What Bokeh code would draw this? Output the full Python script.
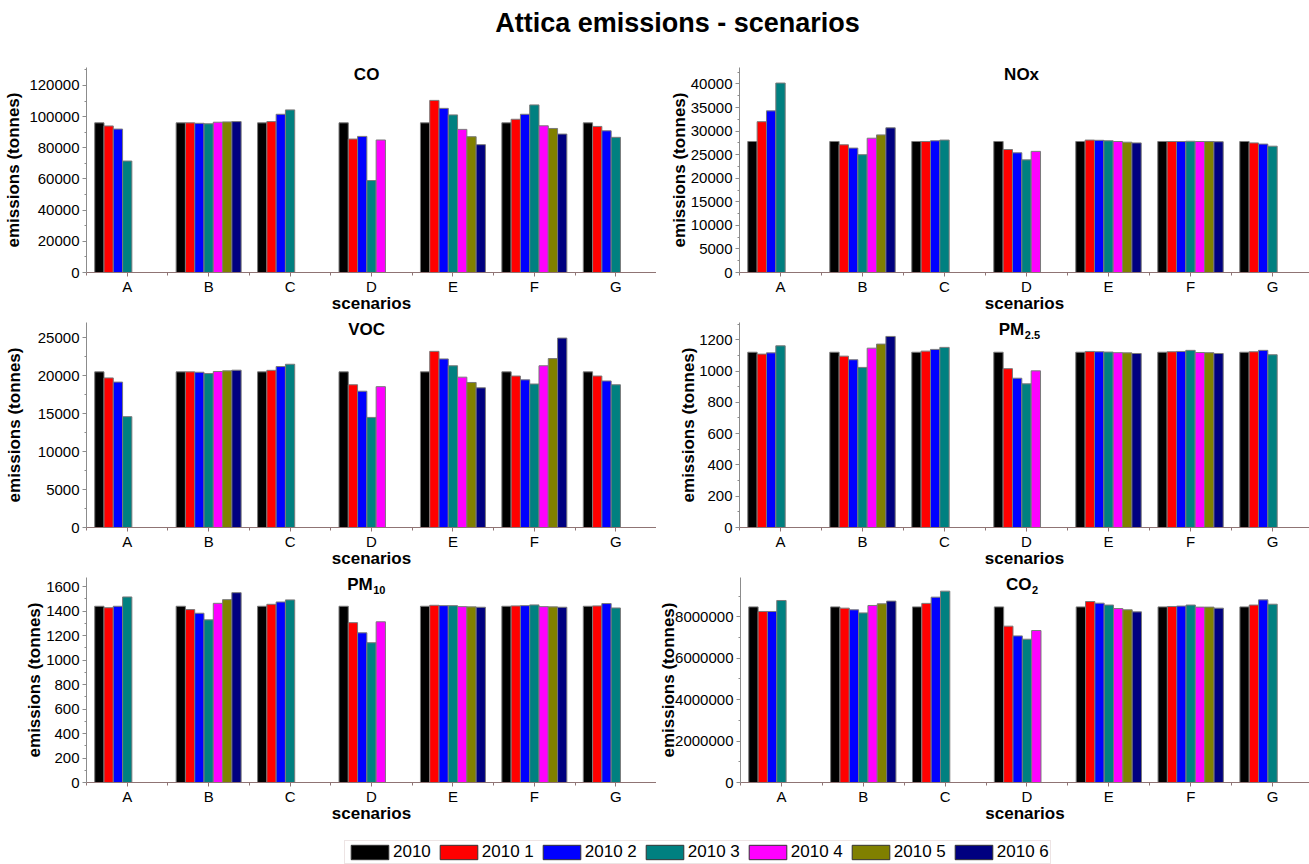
from bokeh.plotting import figure
from bokeh.models import (Range1d, FixedTicker, SingleIntervalTicker, BasicTickFormatter,
                          ColumnDataSource, Label, Legend, LegendItem)
from bokeh.transform import dodge
from bokeh.layouts import column, row
from bokeh.embed import file_html
from bokeh.resources import INLINE

# ---------------- data ----------------
scenarios = ["A", "B", "C", "D", "E", "F", "G"]
series_names = ["2010", "2010 1", "2010 2", "2010 3", "2010 4", "2010 5", "2010 6"]
series_colors = ["#000000", "#ff0000", "#0000ff", "#008080", "#ff00ff", "#808000", "#000080"]

# one list per series (2010, 2010 1 ... 2010 6), one value per scenario A..G
co = [
    [96000, 96000, 96000, 96000, 96000, 96000, 96000],
    [94000, 96000, 96800, 85600, 110400, 98300, 93700],
    [92000, 95700, 101500, 87300, 105300, 101500, 90900],
    [71500, 95400, 104300, 59000, 101100, 107500, 86700],
    [None, 96400, None, 85000, 91800, 94100, None],
    [None, 96600, None, None, 87100, 92400, None],
    [None, 96800, None, None, 82000, 88800, None],
]
nox = [
    [27800, 27800, 27800, 27800, 27800, 27800, 27800],
    [32000, 27100, 27800, 26100, 28100, 27800, 27500],
    [34300, 26400, 27950, 25400, 28050, 27800, 27250],
    [40200, 25000, 28100, 23900, 27950, 27850, 26800],
    [None, 28500, None, 25700, 27800, 27800, None],
    [None, 29200, None, None, 27650, 27800, None],
    [None, 30700, None, None, 27500, 27750, None],
]
voc = [
    [20500, 20500, 20500, 20500, 20500, 20500, 20500],
    [19700, 20500, 20700, 18800, 23200, 19950, 19950],
    [19150, 20450, 21200, 17950, 22200, 19450, 19300],
    [14600, 20280, 21500, 14500, 21300, 18900, 18800],
    [None, 20550, None, 18550, 19800, 21300, None],
    [None, 20630, None, None, 19100, 22250, None],
    [None, 20720, None, None, 18400, 24950, None],
]
pm25 = [
    [1120, 1120, 1120, 1120, 1120, 1120, 1120],
    [1108, 1095, 1127, 1015, 1125, 1123, 1123],
    [1116, 1072, 1138, 954, 1123, 1125, 1132],
    [1161, 1023, 1151, 918, 1121, 1132, 1104],
    [None, 1146, None, 1001, 1117, 1118, None],
    [None, 1172, None, None, 1116, 1117, None],
    [None, 1221, None, None, 1112, 1112, None],
]
pm10 = [
    [1440, 1440, 1440, 1440, 1440, 1440, 1440],
    [1428, 1413, 1456, 1306, 1448, 1443, 1443],
    [1440, 1383, 1475, 1223, 1445, 1445, 1462],
    [1516, 1329, 1492, 1142, 1445, 1451, 1426],
    [None, 1464, None, 1313, 1437, 1437, None],
    [None, 1494, None, None, 1435, 1435, None],
    [None, 1551, None, None, 1432, 1432, None],
]
co2 = [
    [8480000, 8480000, 8480000, 8480000, 8480000, 8480000, 8480000],
    [8260000, 8420000, 8650000, 7550000, 8740000, 8500000, 8570000],
    [8260000, 8340000, 8950000, 7080000, 8660000, 8520000, 8820000],
    [8790000, 8190000, 9240000, 6920000, 8570000, 8570000, 8610000],
    [None, 8550000, None, 7340000, 8400000, 8470000, None],
    [None, 8630000, None, None, 8340000, 8470000, None],
    [None, 8760000, None, None, 8240000, 8420000, None],
]

# ---------------- styling ----------------
FONT = "Liberation Sans"
BW = 0.114
XAXIS_COLOR = "#8f7474"
YAXIS_COLOR = "#8c8c8c"


def make_panel(values, y_end, interval, title, sub, left_col, ylabel_standoff):
    if left_col:
        width, mbl, span = 656, 86, 7.0
    else:
        width, mbl, span = 653, 83, 570 / 82
    p = figure(width=width, height=255,
               x_range=Range1d(-0.5, -0.5 + span), y_range=Range1d(0, y_end),
               toolbar_location=None, output_backend="svg",
               min_border_left=mbl, min_border_right=0,
               min_border_top=7, min_border_bottom=43)
    p.outline_line_color = None
    p.grid.visible = False
    p.background_fill_color = "white"
    p.border_fill_color = "white"

    idx = list(range(len(scenarios)))
    for j, (vals, color) in enumerate(zip(values, series_colors)):
        xs = [i for i, v in zip(idx, vals) if v is not None]
        ys = [v for v in vals if v is not None]
        src = ColumnDataSource(dict(xc=xs, top=ys))
        p.vbar(x=dodge("xc", (j - 3) * BW), top="top", bottom=0, width=BW,
               source=src, fill_color=color, line_color="#7a7a7a", line_width=1)

    # x axis
    xa = p.xaxis[0]
    xa.ticker = FixedTicker(ticks=idx, minor_ticks=[i - 0.5 for i in range(len(scenarios) + 1)])
    xa.major_label_overrides = {i: s for i, s in zip(idx, scenarios)}
    xa.axis_label = "scenarios"
    xa.axis_label_text_font = FONT
    xa.axis_label_text_font_style = "bold"
    xa.axis_label_text_font_size = "17px"
    xa.axis_label_text_color = "black"
    xa.axis_label_standoff = -4
    xa.major_label_text_font = FONT
    xa.major_label_text_font_size = "15px"
    xa.major_label_text_color = "black"
    xa.major_label_standoff = 1
    xa.axis_line_color = XAXIS_COLOR
    xa.major_tick_line_color = XAXIS_COLOR
    xa.minor_tick_line_color = XAXIS_COLOR
    xa.major_tick_in = 0
    xa.major_tick_out = 4
    xa.minor_tick_in = 0
    xa.minor_tick_out = 3

    # y axis
    ya = p.yaxis[0]
    ya.ticker = SingleIntervalTicker(interval=interval, num_minor_ticks=2)
    ya.formatter = BasicTickFormatter(use_scientific=False)
    ya.axis_label = "emissions (tonnes)"
    ya.axis_label_text_font = FONT
    ya.axis_label_text_font_style = "bold"
    ya.axis_label_text_font_size = "17px"
    ya.axis_label_text_color = "black"
    ya.axis_label_standoff = ylabel_standoff
    ya.major_label_text_font = FONT
    ya.major_label_text_font_size = "15px"
    ya.major_label_text_color = "black"
    ya.major_label_standoff = 3
    ya.axis_line_color = YAXIS_COLOR
    ya.major_tick_line_color = YAXIS_COLOR
    ya.minor_tick_line_color = YAXIS_COLOR
    ya.major_tick_in = 0
    ya.major_tick_out = 4
    ya.minor_tick_in = 0
    ya.minor_tick_out = 2

    # panel title (inside frame, at top)
    tx = 2.94
    if sub:
        main_w = 25.5
        sub_w = 0.61 * 11 * len(sub)
        shift = -(main_w + sub_w) / 2 + main_w
        p.add_layout(Label(x=tx, y=y_end, x_offset=shift, y_offset=3, text=title,
                           text_align="right", text_baseline="top", text_font=FONT,
                           text_font_style="bold", text_font_size="17px", text_color="black"))
        p.add_layout(Label(x=tx, y=y_end, x_offset=shift + 0.5, y_offset=-8, text=sub,
                           text_align="left", text_baseline="top", text_font=FONT,
                           text_font_style="bold", text_font_size="11px", text_color="black"))
    else:
        p.add_layout(Label(x=tx, y=y_end, y_offset=3, text=title, text_align="center",
                           text_baseline="top", text_font=FONT, text_font_style="bold",
                           text_font_size="17px", text_color="black"))
    return p


p_co = make_panel(co, 131500, 20000, "CO", None, True, 3)
p_nox = make_panel(nox, 43500, 5000, "NOx", None, False, -1)
p_voc = make_panel(voc, 27000, 5000, "VOC", None, True, 11)
p_pm25 = make_panel(pm25, 1310, 200, "PM", "2.5", False, -2)
p_pm10 = make_panel(pm10, 1675, 200, "PM", "10", True, -1)
p_co2 = make_panel(co2, 9900000, 2000000, "CO", "2", False, -6)

# ---------------- title ----------------
tf = figure(width=1309, height=60, x_range=Range1d(0, 1309), y_range=Range1d(0, 60),
            toolbar_location=None, output_backend="svg", min_border=0,
            x_axis_location=None, y_axis_location=None)
tf.outline_line_color = None
tf.grid.visible = False
tf.add_layout(Label(x=677, y=38, text="Attica emissions - scenarios", text_align="center",
                    text_baseline="middle", text_font=FONT, text_font_style="bold",
                    text_font_size="27px", text_color="black"))

# ---------------- legend ----------------
lf = figure(width=1309, height=39, x_range=Range1d(0, 1), y_range=Range1d(0, 1),
            toolbar_location=None, output_backend="svg", min_border=0,
            x_axis_location=None, y_axis_location=None)
lf.outline_line_color = None
lf.grid.visible = False
items = []
for name, color in zip(series_names, series_colors):
    # a single sample placed outside the visible range, only to style the legend swatch
    r = lf.vbar(x=[0.5], top=[-5], bottom=[-6], width=0.1, fill_color=color,
                line_color="#333333", line_width=1)
    items.append(LegendItem(label=name, renderers=[r], index=0))
legend = Legend(items=items, orientation="horizontal", location=(344, 0),
                glyph_width=47, glyph_height=18, label_standoff=0, spacing=4,
                padding=1, margin=0, label_text_font=FONT, label_text_font_size="17px",
                label_text_color="black", border_line_color="#dccaca", border_line_width=1,
                background_fill_color="white", background_fill_alpha=1.0)
lf.add_layout(legend)

layout = column(tf, row(p_co, p_nox), row(p_voc, p_pm25), row(p_pm10, p_co2), lf)

open("out.html", "w").write(file_html(layout, INLINE))
